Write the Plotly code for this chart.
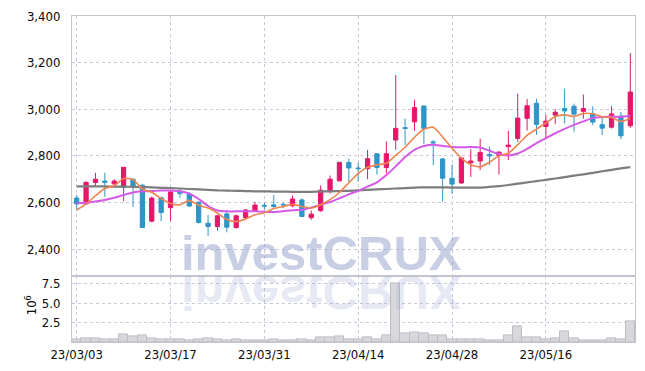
import plotly.graph_objects as go

dates = [
    "23/03/03", "23/03/06", "23/03/07", "23/03/08", "23/03/09", "23/03/10",
    "23/03/13", "23/03/14", "23/03/15", "23/03/16", "23/03/17",
    "23/03/20", "23/03/21", "23/03/22", "23/03/23", "23/03/24",
    "23/03/27", "23/03/28", "23/03/29", "23/03/30", "23/03/31",
    "23/04/03", "23/04/04", "23/04/05", "23/04/06", "23/04/07",
    "23/04/10", "23/04/11", "23/04/12", "23/04/13", "23/04/14",
    "23/04/17", "23/04/18", "23/04/19", "23/04/20", "23/04/21",
    "23/04/24", "23/04/25", "23/04/26", "23/04/27", "23/04/28",
    "23/05/02", "23/05/03", "23/05/04", "23/05/08", "23/05/09",
    "23/05/10", "23/05/11", "23/05/12", "23/05/15", "23/05/16",
    "23/05/17", "23/05/18", "23/05/19", "23/05/22", "23/05/23",
    "23/05/24", "23/05/25", "23/05/26", "23/05/30",
]

opens = [2619, 2594, 2686, 2692, 2680, 2665, 2700, 2674, 2520, 2620,
         2578, 2648, 2636, 2601, 2511, 2497, 2551, 2493, 2535, 2565,
         2588, 2590, 2592, 2586, 2611, 2535, 2565, 2650, 2693, 2772,
         2748, 2745, 2809, 2750, 2868, 2921, 2946, 3014, 2860, 2787,
         2704, 2684, 2770, 2778, 2806, 2802, 2840, 2875, 2961, 3026,
         2926, 2975, 3003, 3013, 2991, 2980, 2934, 2923, 2971, 2929]
highs = [2633, 2692, 2727, 2727, 2700, 2751, 2700, 2680, 2625, 2625,
         2653, 2663, 2645, 2605, 2546, 2547, 2568, 2548, 2572, 2603,
         2600, 2632, 2600, 2629, 2618, 2565, 2673, 2716, 2775, 2788,
         2771, 2826, 2812, 2862, 3147, 2960, 3041, 3016, 2868, 2790,
         2763, 2795, 2829, 2874, 2840, 2820, 2907, 3067, 3044, 3045,
         2977, 3000, 3088, 3024, 3063, 3013, 2967, 3013, 2988, 3241]
lows = [2568, 2590, 2667, 2625, 2663, 2606, 2581, 2493, 2515, 2520,
        2521, 2620, 2580, 2510, 2457, 2480, 2472, 2487, 2530, 2560,
        2570, 2577, 2575, 2580, 2538, 2526, 2560, 2639, 2690, 2689,
        2689, 2700, 2720, 2725, 2826, 2847, 2907, 2851, 2760, 2603,
        2636, 2680, 2710, 2739, 2760, 2720, 2782, 2860, 2909, 2890,
        2871, 2936, 2939, 2904, 2960, 2932, 2889, 2917, 2871, 2920]
closes = [2594, 2686, 2700, 2686, 2692, 2751, 2667, 2493, 2619, 2557,
          2645, 2638, 2585, 2514, 2497, 2543, 2494, 2543, 2568, 2589,
          2585, 2583, 2590, 2615, 2540, 2550, 2653, 2700, 2772, 2748,
          2745, 2788, 2750, 2809, 2918, 2918, 3007, 2918, 2856, 2704,
          2679, 2791, 2778, 2815, 2800, 2816, 2846, 2962, 3015, 2935,
          2949, 2987, 2993, 2979, 3003, 2945, 2919, 2980, 2886, 3074]

ma_short = [2568, 2594, 2629, 2660, 2672, 2703, 2699, 2658, 2644, 2617,
            2596, 2590, 2609, 2588, 2576, 2555, 2527, 2518, 2529, 2547,
            2556, 2574, 2583, 2592, 2583, 2576, 2590, 2612, 2643, 2685,
            2724, 2751, 2761, 2768, 2802, 2837, 2880, 2914, 2923, 2881,
            2833, 2790, 2762, 2753, 2773, 2800, 2811, 2848, 2888, 2915,
            2941, 2969, 2976, 2969, 2982, 2981, 2968, 2965, 2947, 2961]
ma_mid = [2597, 2599, 2604, 2611, 2620, 2632, 2643, 2648, 2649, 2651,
          2651, 2648, 2638, 2615, 2585, 2566, 2562, 2562, 2562, 2562,
          2560, 2559, 2562, 2567, 2568, 2578, 2590, 2602, 2618, 2635,
          2650, 2668, 2686, 2718, 2755, 2795, 2826, 2842, 2848, 2842,
          2838, 2837, 2838, 2836, 2822, 2808, 2802, 2810, 2830, 2855,
          2876, 2897, 2916, 2933, 2948, 2962, 2967, 2969, 2967, 2972]
ma_long = [2669, 2669, 2669, 2669, 2668, 2668, 2667, 2666, 2665, 2663,
           2662, 2660, 2658, 2656, 2654, 2652, 2651, 2650, 2649, 2648,
           2648, 2647, 2647, 2646, 2646, 2646, 2647, 2648, 2649, 2650,
           2652, 2654, 2656, 2658, 2660, 2662, 2664, 2665, 2665, 2665,
           2664, 2664, 2664, 2664, 2667, 2670, 2675, 2681, 2686, 2692,
           2697, 2703, 2709, 2715, 2721, 2727, 2734, 2740, 2746, 2752]

volumes = [0.3, 0.45, 0.45, 0.3, 0.3, 1.0, 0.75, 0.9, 0.45, 0.4,
           0.3, 0.3, 0.15, 0.35, 0.45, 0.3, 0.15, 0.35, 0.15, 0.15,
           0.15, 0.3, 0.15, 0.15, 0.3, 0.15, 0.55, 0.6, 0.7, 0.4,
           0.4, 0.65, 0.4, 0.8, 7.6, 1.1, 1.3, 1.05, 0.8, 0.8,
           0.4, 0.4, 0.4, 0.4, 0.2, 0.2, 0.8, 2.0, 0.65, 0.65,
           0.4, 0.5, 1.35, 0.5, 0.25, 0.25, 0.25, 0.5, 0.4, 2.7]

tick_dates = ["23/03/03", "23/03/17", "23/03/31", "23/04/14", "23/04/28", "23/05/16"]
price_ticks = [2400, 2600, 2800, 3000, 3200, 3400]
vol_ticks = [2.5, 5.0, 7.5]
vol_tick_text = ["2.5", "5.0", "7.5"]

RED = "#e5176a"
BLUE = "#2f95c8"
GRID = "#c9c9dc"
LINE = "#c4c4cc"
FONT = "DejaVu Sans Condensed, Liberation Sans Narrow, sans-serif"
TXT = "#0a0a0a"

fig = go.Figure()

fig.add_trace(go.Bar(
    x=dates, y=volumes, xaxis="x2", yaxis="y2",
    marker=dict(color="#d7d7dc", line=dict(color="#bdbdc4", width=1)),
    hoverinfo="skip", showlegend=False,
))

fig.add_trace(go.Candlestick(
    x=dates, open=opens, high=highs, low=lows, close=closes,
    xaxis="x", yaxis="y",
    increasing=dict(line=dict(color=RED, width=1), fillcolor=RED),
    decreasing=dict(line=dict(color=BLUE, width=1), fillcolor=BLUE),
    showlegend=False, hoverinfo="skip",
))

for vals, col, w in [(ma_long, "#7d7d7d", 2.2), (ma_mid, "#d45ae6", 2), (ma_short, "#ee8450", 1.6)]:
    fig.add_trace(go.Scatter(
        x=dates, y=vals, mode="lines", xaxis="x", yaxis="y",
        line=dict(color=col, width=w, shape="spline", smoothing=0.6),
        hoverinfo="skip", showlegend=False,
    ))

split = 66 / 328

axis_common = dict(
    showline=True, linecolor=LINE, linewidth=1, mirror=True,
    gridcolor=GRID, griddash="dot", gridwidth=1, zeroline=False,
    ticks="", tickfont=dict(family=FONT, size=13, color=TXT),
)

fig.update_layout(
    width=645, height=371,
    margin=dict(l=72, r=9, t=15, b=28),
    paper_bgcolor="white", plot_bgcolor="white",
    bargap=0, boxgap=0.35, hovermode=False,
    xaxis=dict(
        type="category", anchor="y", domain=[0, 1], range=[-0.5, 59.5],
        tickvals=tick_dates, showticklabels=False, showgrid=True,
        rangeslider=dict(visible=False), **axis_common,
    ),
    yaxis=dict(
        anchor="x", domain=[split, 1], range=[2283, 3400],
        tickvals=price_ticks, tickformat=",", showgrid=True, ticklabelstandoff=8,
        **axis_common,
    ),
    xaxis2=dict(
        type="category", anchor="y2", domain=[0, 1], range=[-0.5, 59.5],
        tickvals=tick_dates, ticktext=tick_dates, showgrid=True,
        **axis_common,
    ),
    yaxis2=dict(
        anchor="x2", domain=[0, split], range=[0, 8.46],
        tickvals=vol_ticks, ticktext=vol_tick_text, showgrid=True, ticklabelstandoff=8,
        **axis_common,
    ),
    annotations=[
        dict(text="investCRUX", xref="paper", yref="paper", x=0.4433, y=0.274,
             xanchor="center", yanchor="middle", showarrow=False,
             font=dict(family="Liberation Sans, Arial, sans-serif", size=49,
                       color="rgba(145,157,201,0.5)", weight="bold")),
        dict(text="investCRUX", xref="paper", yref="paper", x=0.4433, y=0.149,
             xanchor="center", yanchor="middle", showarrow=False,
             font=dict(family="Liberation Sans, Arial, sans-serif", size=49,
                       color="rgba(145,157,201,0.22)", weight="bold")),
        dict(text="10<sup>6</sup>", xref="paper", yref="paper",
             x=(31 - 72) / 564, y=(343 - 306) / 328, textangle=-90,
             xanchor="center", yanchor="middle", showarrow=False,
             font=dict(family=FONT, size=13, color=TXT)),
    ],
)

post = """
try {
  document.documentElement.style.margin = '0';
  document.body.style.margin = '0';
  document.body.style.padding = '0';
  document.body.style.overflow = 'hidden';
  var gd = document.getElementById('{plot_id}');
  var ts = gd.querySelectorAll('g.annotation text');
  var found = 0;
  for (var k = 0; k < ts.length; k++) {
    if (ts[k].textContent === 'investCRUX') {
      found += 1;
      if (found === 2) {
        var b = ts[k].getBBox();
        var cy = b.y + b.height / 2;
        ts[k].setAttribute('transform', 'translate(0,' + (2 * cy) + ') scale(1,-1)');
      }
    }
  }
} catch (e) {}
"""

fig.write_html("out.html", config={"displayModeBar": False}, post_script=post)
